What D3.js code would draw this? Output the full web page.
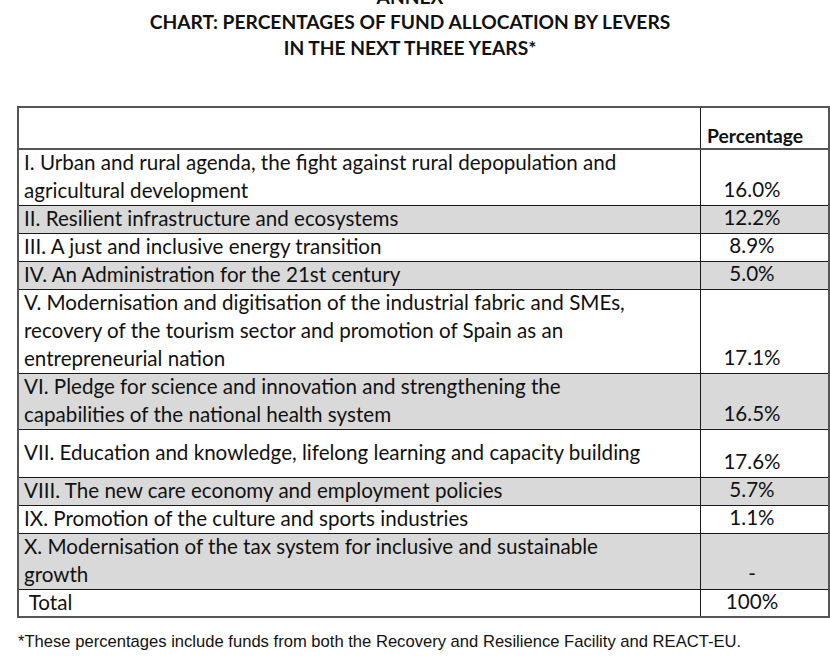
<!DOCTYPE html>
<html><head><meta charset="utf-8">
<script src="https://cdn.jsdelivr.net/npm/d3@7"></script>
<style>body{margin:0;background:#fff}svg{display:block}text{white-space:pre}</style>
</head><body>
<svg id="c" width="830" height="663"></svg>
<script>
const titleLines = ["ANNEX", "CHART: PERCENTAGES OF FUND ALLOCATION BY LEVERS", "IN THE NEXT THREE YEARS*"];
const columnHeader = "Percentage";
const levers = [
  ["I. Urban and rural agenda, the fight against rural depopulation and", "agricultural development"],
  ["II. Resilient infrastructure and ecosystems"],
  ["III. A just and inclusive energy transition"],
  ["IV. An Administration for the 21st century"],
  ["V. Modernisation and digitisation of the industrial fabric and SMEs,", "recovery of the tourism sector and promotion of Spain as an", "entrepreneurial nation"],
  ["VI. Pledge for science and innovation and strengthening the", "capabilities of the national health system"],
  ["VII. Education and knowledge, lifelong learning and capacity building"],
  ["VIII. The new care economy and employment policies"],
  ["IX. Promotion of the culture and sports industries"],
  ["X. Modernisation of the tax system for inclusive and sustainable", "growth"],
  [" Total"]
];
const percentages = ["16.0%", "12.2%", "8.9%", "5.0%", "17.1%", "16.5%", "17.6%", "5.7%", "1.1%", "-", "100%"];
const footnote = "*These percentages include funds from both the Recovery and Resilience Facility and REACT-EU.";

// layout: row heights in line units
const rowUnits = [2, 1, 1, 1, 3, 2, 1.72, 1, 1, 2, 1];

const svg = d3.select("#c");
const L = 18, R = 829, D = 700, headTop = 107, bodyTop = 149, bodyBot = 617;
const font = "Lato, 'Open Sans', sans-serif";

// title
svg.selectAll("text.title").data(titleLines).join("text")
  .attr("x", 410).attr("y", (d, i) => -1 + i * 25.5)
  .attr("text-anchor", "middle").attr("dominant-baseline", "middle")
  .attr("font-family", font).attr("font-weight", "bold").attr("font-size", 19.2)
  .attr("fill", "#111").text(d => d);

const cum = [0];
rowUnits.forEach(u => cum.push(cum[cum.length - 1] + u));
const y = d3.scaleLinear().domain([0, cum[cum.length - 1]]).range([bodyTop, bodyBot]);
const lineH = y(1) - y(0);

const rows = levers.map((lines, i) => ({lines, pct: percentages[i], top: y(cum[i]), bot: y(cum[i + 1]), i}));

// row backgrounds
svg.selectAll("rect.row").data(rows).join("rect")
  .attr("x", L).attr("width", R - L)
  .attr("y", d => d.top).attr("height", d => d.bot - d.top)
  .attr("fill", d => d.i % 2 === 1 ? "#d9d9d9" : "#fff");

// horizontal lines
svg.selectAll("line.h").data(rows.map(r => r.top)).join("line")
  .attr("x1", L).attr("x2", R).attr("y1", d => Math.round(d) + 0.5).attr("y2", d => Math.round(d) + 0.5)
  .attr("stroke", "#1a1a1a").attr("stroke-width", 1);
// divider
svg.append("line").attr("x1", D + 0.5).attr("x2", D + 0.5).attr("y1", headTop).attr("y2", bodyBot)
  .attr("stroke", "#1a1a1a");
// header bottom thicker
svg.append("line").attr("x1", L).attr("x2", R).attr("y1", bodyTop).attr("y2", bodyTop)
  .attr("stroke", "#555").attr("stroke-width", 2);
// outer frame
svg.append("rect").attr("x", L).attr("y", headTop).attr("width", R - L).attr("height", bodyBot - headTop)
  .attr("fill", "none").attr("stroke", "#555").attr("stroke-width", 2);

// header text
svg.append("text").attr("x", 755).attr("y", 138).attr("text-anchor", "middle")
  .attr("dominant-baseline", "middle").attr("font-family", font).attr("font-weight", "bold")
  .attr("font-size", 19.3).attr("fill", "#111").text(columnHeader);

// labels
const g = svg.selectAll("g.row").data(rows).join("g");
g.selectAll("text.lab").data(d => d.lines.map((t, k) => ({t, k, r: d}))).join("text")
  .attr("x", 24)
  .attr("y", d => 2 + (d.r.top + d.r.bot) / 2 + (d.k - (d.r.lines.length - 1) / 2) * lineH)
  .attr("dominant-baseline", "middle")
  .attr("font-family", font).attr("font-size", 20.6).attr("fill", "#111")
  .text(d => d.t);

// values
g.append("text").attr("x", 752).attr("y", d => d.bot - 13)
  .attr("text-anchor", "middle").attr("dominant-baseline", "middle")
  .attr("font-family", font).attr("font-size", 20.6).attr("fill", "#111")
  .text(d => d.pct);

// footnote
svg.append("text").attr("x", 18).attr("y", 643).attr("dominant-baseline", "middle")
  .attr("font-family", "'Liberation Sans', Arial, sans-serif").attr("font-size", 16.6)
  .attr("fill", "#111").text(footnote);
</script>
</body></html>
